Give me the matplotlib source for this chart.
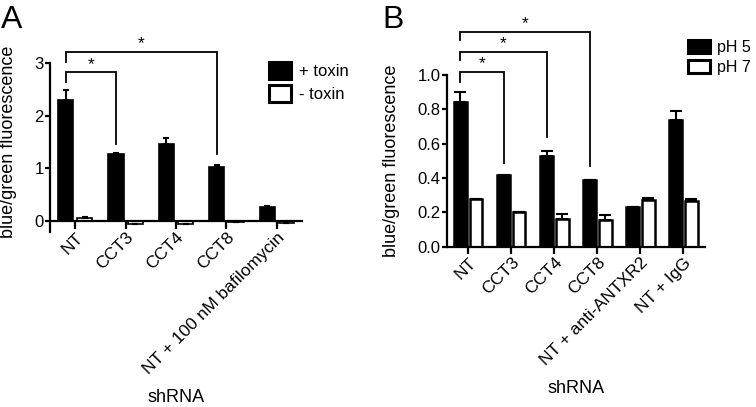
import numpy as np
import matplotlib
matplotlib.use('Agg')
import matplotlib.pyplot as plt

plt.rcParams['font.family'] = ['Liberation Sans', 'DejaVu Sans']

# Panel A data
groups_a = ['NT', 'CCT3', 'CCT4', 'CCT8', 'NT + 100 nM bafilomycin']
plus_toxin = [2.29, 1.28, 1.46, 1.02, 0.27]
plus_toxin_err = [0.20, 0.01, 0.12, 0.04, 0.01]
minus_toxin = [0.06, -0.06, -0.05, -0.02, -0.04]
minus_toxin_err = [0.01, 0.0, 0.0, 0.0, 0.0]
# (left group, right group, line y, left leg end, right leg end)
brackets_a = [(0, 1, 2.82, 2.64, 1.46), (0, 3, 3.21, 3.02, 1.28)]

# Panel B data
groups_b = ['NT', 'CCT3', 'CCT4', 'CCT8', 'NT + anti-ANTXR2', 'NT + IgG']
ph5 = [0.84, 0.42, 0.53, 0.39, 0.23, 0.74]
ph5_err = [0.06, 0.0, 0.03, 0.0, 0.0, 0.05]
ph7 = [0.28, 0.20, 0.16, 0.155, 0.27, 0.265]
ph7_err = [0.0, 0.0, 0.03, 0.03, 0.013, 0.01]
brackets_b = [(0, 1, 1.019, 0.96, 0.487), (0, 2, 1.136, 1.087, 0.64),
              (0, 3, 1.249, 1.204, 0.47)]

W, H = 756, 407
fig = plt.figure(figsize=(W / 100, H / 100), dpi=100)


def make_axes(l, r, t, b):
    # pixel box -> figure fraction
    return fig.add_axes([l / W, 1 - b / H, (r - l) / W, (b - t) / H])


def style_axes(ax, xtick_len):
    for s in ['top', 'right']:
        ax.spines[s].set_visible(False)
    for s in ['left', 'bottom']:
        ax.spines[s].set_linewidth(1.6)
    ax.tick_params(axis='y', direction='out', length=3.5, width=1.6, labelsize=12, pad=1)
    ax.tick_params(axis='x', direction='out', length=xtick_len, width=1.6, labelsize=12.5, pad=1)


def draw_bars(ax, filled, filled_err, empty, empty_err, off, width, edge_lw, capsize):
    x = np.arange(len(filled))
    b1 = ax.bar(x - off, filled, width, color='black', edgecolor='black', linewidth=edge_lw,
                yerr=[np.zeros(len(filled)), filled_err], capsize=capsize,
                error_kw=dict(elinewidth=1.5, capthick=1.5, ecolor='black'))
    b2 = ax.bar(x + off, empty, width, color='white', edgecolor='black', linewidth=edge_lw,
                yerr=[np.zeros(len(empty)), empty_err], capsize=capsize,
                error_kw=dict(elinewidth=1.5, capthick=1.5, ecolor='black'))
    return x, b1, b2


def draw_brackets(ax, brackets, off):
    for i, j, y, yl, yr in brackets:
        x1 = i - off
        x2 = j - off
        ax.plot([x1, x1, x2, x2], [yl, y, y, yr], color='black', lw=1.3,
                clip_on=False, solid_joinstyle='miter')
        ax.annotate('*', ((x1 + x2) / 2, y), xytext=(0, 6), textcoords='offset points',
                    ha='center', va='center', fontsize=12.5, annotation_clip=False)


# ---- Panel A ----
axa = make_axes(50, 302, 63, 231.5)
xa, ba1, ba2 = draw_bars(axa, plus_toxin, plus_toxin_err, minus_toxin, minus_toxin_err,
                         0.19, 0.3, 1.2, 2.5)
axa.set_xlim(-0.5, 4.5)
axa.set_ylim(-0.2, 3)
axa.spines['bottom'].set_position(('data', 0))
axa.set_yticks([0, 1, 2, 3])
axa.set_xticks(xa)
axa.set_xticklabels(groups_a, rotation=45, ha='right', rotation_mode='anchor')
style_axes(axa, 5.5)
draw_brackets(axa, brackets_a, 0.19)
leg = axa.legend([ba1, ba2], ['+ toxin', '- toxin'], loc='upper left',
                 bbox_to_anchor=(269 / W, 1 - 62 / H), bbox_transform=fig.transFigure,
                 frameon=False, fontsize=12, borderpad=0, borderaxespad=0,
                 handlelength=1.3, handleheight=1.2, handletextpad=0.5, labelspacing=0.35)
for p in leg.get_patches():
    p.set_linewidth(2.2)

# ---- Panel B ----
axb = make_axes(446.7, 705, 75, 246.6)
xb, bb1, bb2 = draw_bars(axb, ph5, ph5_err, ph7, ph7_err, 0.18, 0.3, 1.8, 4)
axb.set_xlim(-0.5, 5.5)
axb.set_ylim(0, 1.0)
axb.set_yticks(np.arange(0, 1.01, 0.2))
axb.set_yticklabels(['%.1f' % v for v in np.arange(0, 1.01, 0.2)])
axb.set_xticks(xb)
axb.set_xticklabels(groups_b, rotation=45, ha='right', rotation_mode='anchor')
style_axes(axb, 5)
draw_brackets(axb, brackets_b, 0.18)
leg = axb.legend([bb1, bb2], ['pH 5', 'pH 7'], loc='upper left',
                 bbox_to_anchor=(688 / W, 1 - 40 / H), bbox_transform=fig.transFigure,
                 frameon=False, fontsize=11.5, borderpad=0, borderaxespad=0,
                 handlelength=1.35, handleheight=0.9, handletextpad=0.45, labelspacing=0.3)
for p in leg.get_patches():
    p.set_linewidth(2.2)

# labels
fig.text(9 / W, 1 - 142 / H, 'blue/green fluorescence', rotation=90, ha='center',
         va='center', fontsize=13)
fig.text(392 / W, 1 - 161 / H, 'blue/green fluorescence', rotation=90, ha='center',
         va='center', fontsize=13)
fig.text(176 / W, 1 - 402 / H, 'shRNA', ha='center', va='baseline', fontsize=13)
fig.text(576 / W, 1 - 393 / H, 'shRNA', ha='center', va='baseline', fontsize=13)
fig.text(1 / W, 1 - 28 / H, 'A', ha='left', va='baseline', fontsize=23)
fig.text(382 / W, 1 - 28 / H, 'B', ha='left', va='baseline', fontsize=23)

fig.savefig('out.png', dpi=100)
